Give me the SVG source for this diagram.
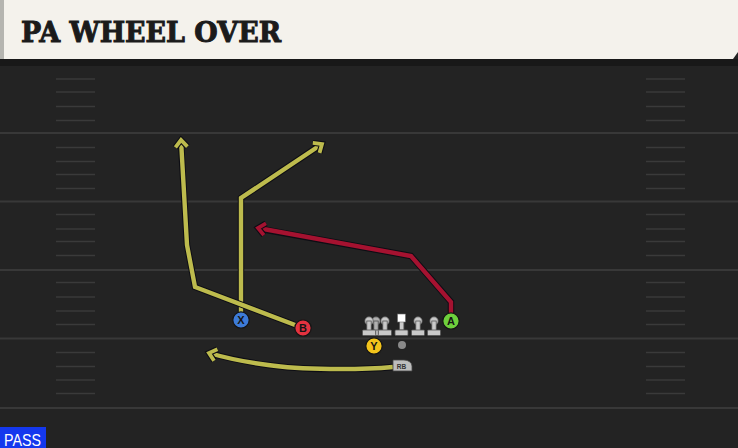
<svg xmlns="http://www.w3.org/2000/svg" width="738" height="448" viewBox="0 0 738 448">
<style>
.yard{stroke:#383838;stroke-width:2}
.hash{stroke:#3a3a3a;stroke-width:1.6}
.rt{fill:none;stroke-width:4.4;stroke-linejoin:miter;stroke-linecap:butt}
.rto{fill:none;stroke:#0d0d14;stroke-width:6.4;stroke-linejoin:miter}
.yel{stroke:#bdbb4d}
.red{stroke:#a51230}
.pl{stroke:#151515;stroke-width:1.2}
.lt{font-family:"Liberation Sans",Arial,sans-serif;font-weight:bold;font-size:11px;fill:#151515;text-anchor:middle}
.ol{fill:#c9c9c9;stroke:#555;stroke-width:0.8}
</style>
<defs>
<marker id="ay" markerUnits="userSpaceOnUse" markerWidth="20" markerHeight="20" refX="10" refY="10" orient="auto" overflow="visible">
<path d="M3,4 L10,10 L3,16" fill="none" stroke="#0d0d14" stroke-width="6"/>
<path d="M3,4 L10,10 L3,16" fill="none" stroke="#bdbb4d" stroke-width="3.8"/>
</marker>
<marker id="ar" markerUnits="userSpaceOnUse" markerWidth="20" markerHeight="20" refX="10" refY="10" orient="auto" overflow="visible">
<path d="M3,4 L10,10 L3,16" fill="none" stroke="#0d0d14" stroke-width="6"/>
<path d="M3,4 L10,10 L3,16" fill="none" stroke="#a51230" stroke-width="3.8"/>
</marker>
<g id="lm"><circle cx="0" cy="0" r="4.2" class="ol"/><rect x="-2.2" y="0" width="4.4" height="11" class="ol"/><rect x="-6.5" y="9" width="13" height="5.5" rx="1" class="ol"/></g>
</defs>
<rect width="738" height="448" fill="#232323"/>
<g id="field">
<rect x="0" y="59" width="738" height="7" fill="#181818"/>
<line class="yard" x1="0" y1="133" x2="738" y2="133"/>
<line class="yard" x1="0" y1="201.5" x2="738" y2="201.5"/>
<line class="yard" x1="0" y1="270" x2="738" y2="270"/>
<line class="yard" x1="0" y1="338.5" x2="738" y2="338.5"/>
<line class="yard" x1="0" y1="408" x2="738" y2="408"/>
<g id="hashL">
<line class="hash" x1="56" y1="79" x2="95" y2="79"/><line class="hash" x1="56" y1="92" x2="95" y2="92"/><line class="hash" x1="56" y1="106.5" x2="95" y2="106.5"/><line class="hash" x1="56" y1="120.5" x2="95" y2="120.5"/>
<line class="hash" x1="56" y1="147.5" x2="95" y2="147.5"/><line class="hash" x1="56" y1="161.5" x2="95" y2="161.5"/><line class="hash" x1="56" y1="174.5" x2="95" y2="174.5"/><line class="hash" x1="56" y1="188.5" x2="95" y2="188.5"/>
<line class="hash" x1="56" y1="214.5" x2="95" y2="214.5"/><line class="hash" x1="56" y1="229" x2="95" y2="229"/><line class="hash" x1="56" y1="241.5" x2="95" y2="241.5"/><line class="hash" x1="56" y1="255.5" x2="95" y2="255.5"/>
<line class="hash" x1="56" y1="282.5" x2="95" y2="282.5"/><line class="hash" x1="56" y1="297" x2="95" y2="297"/><line class="hash" x1="56" y1="311" x2="95" y2="311"/><line class="hash" x1="56" y1="324.5" x2="95" y2="324.5"/>
<line class="hash" x1="56" y1="352.5" x2="95" y2="352.5"/><line class="hash" x1="56" y1="366.5" x2="95" y2="366.5"/><line class="hash" x1="56" y1="380" x2="95" y2="380"/><line class="hash" x1="56" y1="393.5" x2="95" y2="393.5"/>
</g>
<use href="#hashL" x="590"/>
</g>
<g id="title">
<polygon points="0,0 738,0 738,52 733,59 0,59" fill="#f4f2ec"/>
<rect x="0" y="0" width="4" height="59" fill="#b5b5b0"/>
<text x="21" y="42" font-family="'DejaVu Serif','Liberation Serif',serif" font-weight="bold" font-size="28" textLength="260" lengthAdjust="spacingAndGlyphs" fill="#1b1b1b" stroke="#1b1b1b" stroke-width="1">PA WHEEL OVER</text>
</g>
<g id="connectors">
<path class="rto" d="M241,312 V198 L319,146"/>
<path class="rt yel" d="M241,312 V198 L322,144" marker-end="url(#ay)"/>
<path class="rto" d="M303,328 L195,287 L187,245 L181,143"/>
<path class="rt yel" d="M303,328 L195,287 L187,245 L181,140" marker-end="url(#ay)"/>
<path class="rto" d="M451,313 V302 L411,256 L261,229"/>
<path class="rt red" d="M451,313 V302 L411,256 L258,228" marker-end="url(#ar)"/>
<path class="rto" d="M393,367 C360,370 300,370 268,365 C245,362 228,358 212,354"/>
<path class="rt yel" d="M393,367 C360,370 300,370 268,365 C245,362 226,358 209,353" marker-end="url(#ay)"/>
</g>
<g id="line">
<g opacity="0.85"><use href="#lm" x="376" y="321"/></g>
<use href="#lm" x="369" y="321"/>
<use href="#lm" x="385" y="321"/>
<g id="center"><rect x="399.5" y="318" width="4.4" height="12" class="ol"/><rect x="395" y="330" width="13" height="5.5" rx="1" class="ol"/><rect x="397.5" y="314" width="8" height="8" fill="#ffffff" stroke="#666" stroke-width="0.6"/></g>
<use href="#lm" x="418" y="321"/>
<use href="#lm" x="434" y="321"/>
</g>
<g id="ball"><circle cx="402" cy="345" r="4" fill="#8a8a8a"/></g>
<g id="X"><circle class="pl" cx="241" cy="320" r="8.2" fill="#3d7bd8"/><text class="lt" x="241" y="324">X</text></g>
<g id="B"><circle class="pl" cx="303" cy="328" r="8.2" fill="#e4323f"/><text class="lt" x="303" y="332">B</text></g>
<g id="A"><circle class="pl" cx="451" cy="321" r="8.2" fill="#6ed03c"/><text class="lt" x="451" y="325">A</text></g>
<g id="Y"><circle class="pl" cx="374" cy="346" r="8.2" fill="#f3c41b"/><text class="lt" x="374" y="350">Y</text></g>
<g id="RB"><path d="M393,360 H404 A8,6 0 0 1 412,366 V371 H393 Z" fill="#bdbdbd" stroke="#444" stroke-width="0.8"/><text x="401.5" y="368.5" font-family="'Liberation Sans',Arial,sans-serif" font-weight="bold" font-size="6.5" fill="#333" text-anchor="middle">RB</text></g>
<g id="pass"><rect x="0" y="427" width="46" height="21" fill="#1438ee"/><text x="4" y="445.5" font-family="'Liberation Sans',Arial,sans-serif" font-size="16.5" textLength="37" lengthAdjust="spacingAndGlyphs" fill="#ffffff">PASS</text></g>
</svg>
